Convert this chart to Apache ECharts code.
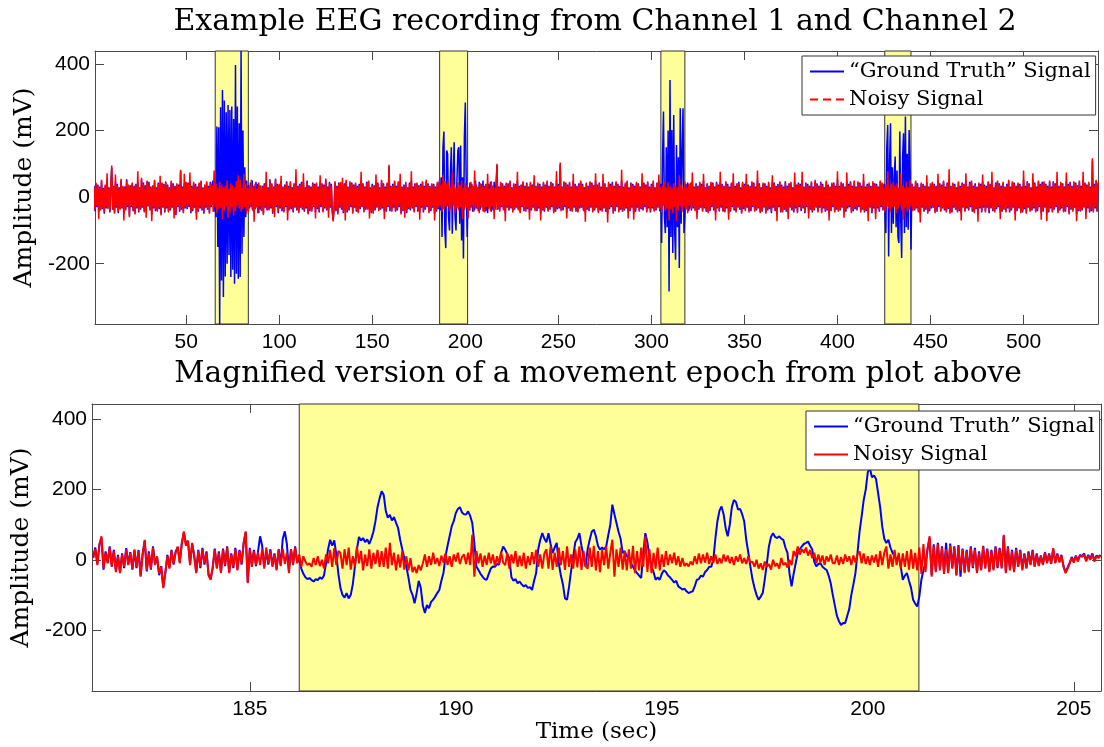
<!DOCTYPE html>
<html>
<head>
<meta charset="utf-8">
<script src="https://cdn.jsdelivr.net/npm/echarts@6/dist/echarts.min.js"></script>
<style>
  html, body { margin: 0; padding: 0; background: #fff; }
  #chart { width: 1104px; height: 747px; }
</style>
</head>
<body>
<div id="chart"></div>
<script>
// ---- Recording: whole session, two samples per second (mV), 10 s per row ----
const overviewStart = 0.5;   // s
const overviewStep = 0.5;    // s

const overviewTruth = [
  34,-42,40,-30,38,-44,32,-36,48,-36,28,-50,34,-34,52,-32,30,-46,36,88,
  -38,34,-46,46,-32,40,-48,30,-34,50,-34,30,-50,32,-36,54,-30,34,-56,36,
  -30,40,-42,34,-48,40,-34,44,-46,30,-38,54,-32,44,-42,36,-40,46,-28,46,
  -36,32,-52,32,-34,48,-42,30,-40,44,-36,34,-50,40,-32,40,-46,44,-34,38,
  -42,30,-40,46,-32,42,-38,34,-54,38,-30,38,-44,78,-38,32,-44,42,-34,42,
  -36,44,-30,48,-48,34,-42,42,-32,40,-50,32,-44,40,-34,46,-40,30,-50,34,
  -32,44,-38,34,-46,46,-30,40,50,-44,40,-60,212,-150,210,-381,270,-250,322,-300,
  290,-238,255,-200,277,-174,262,-240,272,-218,235,-260,397,-230,272,-245,222,-240,439,-170,
  200,-120,90,-60,50,-40,36,-34,44,-30,50,-42,34,-36,46,-30,40,-48,34,-38,
  -44,34,-50,42,-32,44,-40,30,-36,54,-34,38,-50,32,-30,52,-30,40,-48,36,
  -34,48,-42,32,-42,38,-30,48,-46,34,-36,44,-36,30,-46,42,-32,50,-40,34,
  -44,40,-32,46,-38,46,-44,30,-34,50,-48,36,-42,32,-40,44,-30,40,-46,40,
  -36,32,-46,46,-30,42,-42,38,-34,52,-40,32,-40,46,-32,40,-44,-68,-34,44,
  -42,34,-48,44,-32,42,-38,30,-48,42,-34,48,-46,32,-40,44,-30,44,-46,38,
  -32,40,-44,34,-44,40,-36,50,-30,42,-42,32,-38,46,-34,46,-34,30,-48,40,
  -46,36,-40,42,-32,44,-38,30,-38,48,-34,42,-44,32,-44,40,-30,92,-42,34,
  -40,40,-32,46,-44,34,-40,44,-30,46,-48,32,-42,38,-34,42,-48,30,-36,44,
  -40,50,-34,32,-42,42,-30,40,-44,36,-46,40,-32,44,-46,34,-38,48,-30,42,
  -44,34,-42,38,-32,40,-50,32,-44,42,-36,45,-40,60,-120,150,197,-100,-153,140,
  130,-60,-100,70,150,-110,60,165,-60,-100,50,140,150,-80,155,-130,60,-184,180,284,
  40,-120,30,-40,44,-32,40,-44,32,-40,50,-34,30,-42,46,-38,40,-32,50,-44,
  34,-42,34,-48,40,-30,46,-44,32,-40,46,-34,42,96,-38,32,-40,42,-30,42,
  -36,34,-48,40,-32,42,-40,46,-34,30,-42,38,-38,40,-32,50,-36,34,-44,38,
  -30,44,-42,34,-40,44,-36,32,-46,42,-40,38,-32,48,-38,34,-42,40,-34,40,
  -48,32,-40,42,-44,38,-32,46,-40,34,-38,46,-30,42,-44,32,-44,50,-36,40,
  -34,98,-38,32,-40,44,-30,44,-46,38,-34,42,-42,32,-40,48,-32,40,-44,34,
  -42,42,-34,46,-32,40,-38,30,-48,40,-38,34,-42,44,-32,44,-42,36,-40,50,
  -32,38,-44,44,-40,32,-40,48,-34,42,-44,30,-50,42,-36,40,-30,46,-46,34,
  -42,44,-30,40,-42,34,-38,50,-44,32,-40,40,-34,46,-44,30,-42,44,-32,40,
  -48,34,-44,42,-32,42,-40,32,-36,48,-40,44,-30,38,-42,44,-34,32,-46,40,
  -34,46,-40,30,-40,44,-32,50,-42,40,-138,120,257,-60,-108,150,-90,200,-283,352,
  -120,202,-168,247,-100,-188,157,-90,120,-213,267,-80,140,267,-108,-58,40,-35,44,-42,
  -30,40,-40,48,-34,32,-38,42,-46,34,-38,42,-32,40,-40,50,-34,30,-44,42,
  -44,34,-42,42,-30,44,-40,32,-48,46,-34,38,-40,46,-32,40,-44,34,-42,44,
  -34,40,-50,32,-44,40,-30,46,-40,34,-42,42,-32,46,-38,30,-46,42,-36,40,
  -38,48,-32,38,-42,34,-42,44,-30,44,-40,32,-40,50,-34,42,-44,30,-44,40,
  -32,42,-46,34,-40,42,-36,30,-48,48,-32,44,-42,34,-50,40,-30,44,-46,38,
  -42,32,-38,48,-44,34,-48,42,-32,42,-40,30,-46,46,-34,38,-44,44,-30,40,
  -42,50,-34,32,-48,44,-30,40,-46,34,-38,44,-46,32,-40,48,-32,42,-42,34,
  -32,46,-44,40,-34,30,-44,46,-40,38,-48,32,-42,40,-30,44,-42,34,-38,52,
  -40,34,-40,42,-32,42,-46,32,-44,48,-34,40,-30,48,-44,34,-42,46,-36,32,
  -40,44,-30,44,-42,34,-38,50,-46,32,-42,40,-46,40,-32,34,-48,44,-34,42,
  -48,40,-34,32,-44,46,-30,40,-40,40,-50,-108,150,217,-178,100,222,-108,90,-80,
  60,122,-90,80,-120,-138,197,-70,-183,120,192,-108,242,-90,130,-98,202,82,-158,40,
  -38,32,-40,46,-34,42,-42,30,-50,40,-32,40,-44,34,-38,44,-46,32,-42,38,
  -34,42,-32,40,-44,34,-44,48,-30,42,-40,38,-34,46,-40,32,-42,44,-36,50,
  -46,34,-46,40,-32,40,-38,30,-42,44,-42,34,-48,44,-32,40,-40,50,-34,32,
  -40,46,-30,46,-44,34,-44,42,-36,32,-50,40,-34,40,-46,48,-32,38,-42,34,
  -32,44,-48,40,-34,50,-42,30,-42,44,-36,46,-30,42,-46,34,-44,42,-38,32,
  -42,40,-34,48,-46,32,-40,44,-32,44,-50,34,-42,40,-34,40,-44,32,-46,52,
  -36,34,-46,48,-32,42,-40,30,-40,50,-34,44,-42,32,-42,46,-30,40,-48,46,
  -44,44,-32,40,-50,34,-46,46,-34,32,-42,48,-38,42,-30,48,-44,34,-40,42,
  -34,42,-42,32,-44,50,-30,40,-48,46,-38,34,-40,44,-32,44,-52,36,-42,46,
  -40,34,-40,52,-32,44,-46,38,-34,42,-46,32,-42,110,-42,40,-34,48,-44,40
];

const overviewNoisy = [
  30,-38,44,-26,36,-66,28,-40,52,-32,24,-45,38,-30,72,-36,26,-42,40,95,
  -35,30,-50,68,-28,36,-44,26,-38,55,-30,34,-70,28,-40,50,-25,38,-60,32,
  -26,44,-38,30,-52,36,-30,78,-42,26,-34,58,-28,40,-46,32,-62,50,-24,42,
  -40,28,-72,36,-30,52,-38,26,-44,40,-32,64,-55,44,-28,36,-42,48,-30,34,
  -46,26,-36,50,-28,38,-64,30,-50,42,-26,34,-40,82,-35,28,-48,70,-30,46,
  -32,40,-26,74,-44,30,-38,46,-28,36,-68,28,-40,44,-30,50,-36,26,-46,38,
  -28,48,-34,30,-50,42,-26,36,-44,80,-30,40,-48,28,-36,46,-32,38,-66,30,
  -40,34,-28,50,-62,26,-46,42,-30,36,-55,30,-42,48,-26,66,-34,52,-44,28,
  -36,70,-30,40,-50,28,-42,34,-26,52,-38,30,-74,40,-32,26,-48,44,-28,36,
  -42,30,-54,38,-28,76,-36,26,-40,50,-30,42,-46,28,-60,56,-26,36,-44,40,
  -30,64,-38,28,-46,34,-26,44,-70,30,-40,48,-32,26,-42,38,-28,84,-36,30,
  -48,36,-28,42,-34,72,-40,26,-30,46,-52,32,-38,28,-44,40,-26,36,-64,44,
  -32,28,-42,66,-26,38,-46,34,-30,56,-36,28,-62,42,-28,36,-40,-73,-30,48,
  -38,30,-52,40,-28,46,-34,58,-44,38,-70,52,-42,28,-36,48,-26,40,-50,34,
  -28,44,-40,30,-48,36,-32,76,-26,38,-46,28,-34,42,-38,50,-64,26,-44,36,
  -50,32,-36,68,-28,40,-42,26,-34,52,-30,38,-66,28,-40,44,-26,97,-38,30,
  -44,36,-28,50,-40,30,-36,48,-26,70,-52,28,-38,34,-62,46,-44,26,-32,40,
  -36,78,-30,28,-46,38,-26,44,-40,32,-68,36,-28,48,-42,30,-34,52,-26,38,
  -48,30,-38,42,-28,36,-70,28,-40,46,-32,50,-26,38,-44,66,-36,48,-30,40,
  -28,46,-42,30,-36,74,-26,38,-48,28,-34,44,-40,36,-30,50,-66,28,-38,42,
  -32,36,-64,28,-40,46,-26,34,-44,80,-30,38,-36,28,-48,42,-28,36,-42,30,
  -46,40,-30,70,-36,26,-42,48,-28,36,-66,30,-38,100,-34,28,-44,46,-26,38,
  -40,30,-72,44,-28,38,-36,50,-30,26,-46,42,-34,36,-28,76,-40,30,-48,34,
  -26,48,-38,30,-44,40,-32,28,-68,46,-36,34,-28,66,-42,30,-38,44,-30,36,
  -70,28,-36,46,-40,34,-28,50,-44,30,-34,42,-26,38,-48,28,-40,78,-32,36,
  -30,104,-42,28,-36,48,-26,40,-64,34,-30,46,-38,28,-44,70,-28,36,-40,30,
  -46,38,-30,50,-28,36,-42,26,-74,44,-34,30,-38,48,-28,40,-46,32,-36,72,
  -28,34,-48,40,-36,28,-44,70,-30,38,-40,26,-76,46,-32,36,-26,42,-50,30,
  -38,48,-26,36,-46,30,-34,82,-40,28,-36,44,-30,50,-64,26,-38,40,-28,36,
  -68,30,-40,46,-28,38,-44,28,-32,72,-36,40,-26,34,-46,48,-30,28,-42,36,
  -30,50,-44,26,-36,40,-28,68,-38,30,-46,36,-26,48,-42,28,-34,44,-70,32,
  -36,28,-48,42,-30,36,-72,30,-40,66,-26,38,-44,28,-32,46,-38,30,-48,40,
  -26,44,-36,74,-30,28,-42,38,-66,30,-34,46,-28,36,-44,70,-30,26,-40,38,
  -48,30,-38,46,-26,40,-36,28,-70,42,-30,34,-44,76,-28,36,-40,30,-46,48,
  -30,36,-68,28,-40,44,-26,72,-36,30,-46,38,-28,42,-34,26,-50,46,-32,36,
  -42,70,-28,34,-46,30,-38,48,-26,40,-44,28,-36,80,-30,38,-48,26,-40,44,
  -28,38,-50,30,-36,46,-32,26,-44,66,-28,40,-38,30,-72,36,-26,48,-42,34,
  -46,28,-34,44,-40,30,-66,38,-28,46,-36,26,-42,74,-30,34,-48,40,-26,36,
  -38,76,-30,28,-44,40,-26,36,-64,30,-34,48,-42,28,-36,52,-28,38,-46,30,
  -28,42,-48,36,-30,26,-40,50,-36,34,-70,28,-38,44,-26,40,-46,30,-34,78,
  -44,30,-36,46,-28,38,-62,28,-40,74,-30,36,-26,44,-48,30,-38,50,-32,28,
  -36,48,-26,40,-46,30,-34,70,-42,28,-38,36,-72,44,-28,30,-44,48,-30,38,
  -66,36,-30,28,-40,50,-26,44,-36,30,-46,38,-28,78,-34,26,-44,40,-30,46,
  -28,34,-48,42,-36,30,-26,72,-40,36,-68,28,-32,46,-44,30,-38,52,-28,40,
  -42,28,-36,50,-30,38,-46,26,-76,44,-28,36,-40,30,-34,66,-50,28,-38,42,
  -30,46,-28,36,-48,30,-40,70,-26,38,-44,34,-30,50,-36,28,-46,40,-32,84,
  -50,30,-42,44,-28,36,-34,26,-46,48,-38,30,-70,40,-28,36,-44,72,-30,28,
  -36,42,-26,50,-40,30,-48,38,-32,28,-74,44,-30,36,-42,68,-28,34,-46,30,
  -28,48,-44,36,-30,76,-38,26,-46,40,-32,50,-26,38,-66,30,-40,46,-34,28,
  -46,36,-30,52,-42,28,-36,48,-28,40,-70,30,-38,44,-30,36,-48,28,-42,80,
  -32,30,-50,44,-28,38,-44,26,-36,72,-30,40,-46,28,-38,50,-26,36,-68,42,
  -40,48,-28,36,-72,30,-42,50,-30,28,-46,44,-34,38,-26,76,-48,30,-36,46,
  -30,38,-46,28,-40,74,-26,36,-52,42,-34,30,-44,48,-28,40,-72,32,-38,50,
  -44,30,-36,76,-28,40,-66,34,-30,46,-42,28,-38,117,-46,36,-30,52,-40,45
];

// ---- Close-up of the second movement epoch, 20 samples per second (mV) ----
const zoomStart = 181.2;     // s
const zoomStep = 0.05;       // s

const zoomTruth = [
  8,35,-12,45,62,-28,24,-8,38,-18,28,-32,14,-35,18,-24,33,-12,22,-28,
  27,-24,28,-45,18,54,-33,24,-28,38,-12,6,-44,-18,-78,-38,14,-22,28,-14,
  24,35,-6,48,78,44,52,-12,45,14,-35,28,-24,34,-14,24,-42,-54,-24,32,
  -22,24,-35,32,-18,38,-35,18,-24,34,-27,28,-14,48,78,-64,34,-16,28,-18,
  24,67,40,-20,25,-14,30,-16,18,-26,30,-14,60,81,45,-30,30,-12,38,-8,
  5,-25,-40,-50,-55,-52,-58,-62,-55,-58,-50,-55,-45,-10,30,57,40,55,15,-40,
  -80,-100,-108,-95,-110,-100,-70,-20,30,65,55,62,50,58,45,60,80,110,150,175,
  195,185,140,120,128,112,122,105,90,57,30,5,-19,-50,-86,-100,-124,-95,-60,-80,
  -130,-152,-129,-138,-120,-114,-105,-95,-86,-60,-38,10,40,67,95,110,133,145,150,135,
  130,129,138,125,105,48,-19,-29,-40,-48,-55,-57,-40,-25,-19,-20,-12,-14,20,38,
  29,15,5,-50,-60,-55,-67,-62,-70,-76,-72,-80,-78,-86,-60,-38,30,57,76,60,
  50,76,45,19,35,48,-10,-45,-70,-110,-114,-76,-30,10,50,60,76,40,10,-19,
  30,57,80,86,67,40,29,35,30,38,70,100,157,130,105,80,60,19,25,10,
  10,-10,-20,-30,-38,-45,-52,20,76,50,10,-19,-35,-57,-50,-57,-40,-30,-35,-45,
  -50,-57,-65,-60,-76,-80,-85,-82,-90,-95,-92,-90,-75,-57,-55,-45,-48,-35,-29,-20,
  -20,0,60,110,140,152,130,90,67,100,150,170,165,143,145,130,110,57,20,-19,
  -55,-80,-100,-114,-105,-95,-55,-10,38,65,76,65,62,67,60,57,35,20,-40,-76,
  -40,-10,19,30,38,45,48,52,40,30,-5,-19,-12,-10,-20,-25,-29,-45,-67,-100,
  -130,-160,-175,-186,-180,-181,-160,-140,-100,-70,-38,20,80,124,170,200,250,262,235,240,
  230,190,150,95,60,48,57,35,20,10,0,12,-20,-57,-45,-38,-60,-80,-114,-125,
  -133,-105,-57,-30,-10,32,62,-44,44,-32,48,-26,38,-36,48,-34,46,-22,38,-42,
  42,-48,32,-34,28,-32,38,-24,34,-34,24,-28,40,-22,32,-32,28,-26,38,-24,
  34,-22,68,-34,38,-28,28,-32,34,-18,28,-26,18,-22,24,-12,28,-18,18,-15,
  12,-12,22,-8,18,-10,30,-8,18,-6,14,-18,-35,-22,-8,8,-5,12,-2,14,
  10,18,-2,14,3,18,-2,12,8,14
];

const zoomNoisy = [
  5,30,-15,40,67,-25,20,-10,35,-20,25,-35,10,-38,15,-20,30,-15,20,-25,
  30,-20,25,-48,15,57,-30,20,-25,35,-15,10,-40,-20,-81,-35,10,-25,25,-10,
  20,38,-10,45,81,40,55,-15,48,10,-38,25,-20,30,-10,20,-45,-57,-20,29,
  -25,20,-38,29,-15,35,-38,15,-20,30,-30,25,-10,45,81,-67,30,-20,25,-15,
  20,-15,30,-25,35,-10,25,-20,15,-30,28,-18,32,-12,20,-38,30,-15,35,-10,
  15,-20,10,-5,-15,-10,-20,5,-15,10,-18,0,-25,15,-10,28,-20,33,-15,25,
  20,-25,30,-15,35,-28,10,-20,38,-10,25,-30,15,-18,30,-25,20,-12,28,-20,
  25,-20,35,-25,48,-15,20,-30,15,-22,25,-28,10,-30,5,-35,-20,-38,-15,-30,
  -10,15,-20,10,-15,20,-12,5,-18,12,-8,18,-15,10,-20,15,-5,20,-12,8,
  15,-12,20,-15,71,-48,25,-10,18,-20,12,-15,20,-10,15,-18,10,-12,22,-8,
  -15,20,-25,15,-10,25,-20,12,-18,20,-25,10,-15,22,-12,28,-20,15,-25,18,
  30,-25,38,-29,20,-20,35,-15,25,-29,38,-20,15,-25,30,-22,38,-29,25,-18,
  -25,35,-20,40,-30,25,-35,30,-15,38,-25,20,57,-48,30,-20,35,-28,25,-30,
  30,-25,40,-38,25,-30,35,-20,67,-35,30,-38,20,-25,35,-30,15,-20,25,-15,
  15,-10,20,-15,10,-20,5,-18,-10,-19,-5,-15,10,-12,18,-10,15,-8,20,-12,
  10,-8,15,-12,5,-10,15,-5,12,-10,8,-15,10,-5,15,-10,5,-12,10,-8,
  -5,-20,0,-25,-10,-29,-5,-20,-12,-28,0,-18,-10,-25,5,-15,-8,-22,0,-15,
  25,10,38,15,30,20,35,12,28,5,20,-10,15,-8,12,-15,10,-5,15,-10,
  -10,12,-15,8,-12,15,-5,10,-15,12,-8,15,24,-10,18,-12,10,-15,12,-8,
  15,-20,25,-15,20,38,-25,15,-20,28,-15,20,-25,18,-20,25,-28,30,-25,20,
  -30,35,-40,45,-35,30,67,-48,40,-35,45,-30,35,-40,30,-38,42,-25,35,-45,
  38,-30,30,-38,25,-35,35,-20,30,-38,20,-30,38,-25,30,-35,25,-30,35,-20,
  30,-25,71,-38,35,-30,25,-35,30,-20,25,-30,15,-25,20,-15,25,-20,15,-18,
  10,-15,20,-10,15,-12,33,-10,15,-8,12,-20,-38,-25,-10,5,-8,10,-5,12,
  8,15,-5,12,0,15,-5,10,5,12
];

// Movement epochs (start, end) in seconds; the close-up shows the second one
const movementEpochs = [[65.6, 83.4], [186.2, 201.24], [305.1, 318.0], [425.4, 439.5]];
const zoomEpochIndex = 1;

// Axis extents and tick labels
const overviewRange = [1, 540];
const zoomRange = [181.17, 205.66];
const overviewAmpRange = [-381, 439];
const zoomAmpRange = [-374, 444];
const overviewTicks = [50, 100, 150, 200, 250, 300, 350, 400, 450, 500];
const zoomTicks = [185, 190, 195, 200, 205];
const ampTicks = [-200, 0, 200, 400];

const seriesNames = ['\u201CGround Truth\u201D Signal', 'Noisy Signal'];
const titles = [
  'Example EEG recording from Channel 1 and Channel 2',
  'Magnified version of a movement epoch from plot above'
];
const ampLabel = 'Amplitude (mV)';
const timeLabel = 'Time (sec)';

// ---- Styling ----
const SERIF = 'DejaVu Serif';
const SANS = 'Liberation Sans';
const AXIS = '#4a4a4a';
const BLUE = '#0000ff';
const RED = '#ff0000';
const YELLOW = '#ffff99';
// legend keys: a plain stroke and a three-dash stroke
const SOLID_KEY = 'rect';
const DASHED_KEY = 'path://M0,0h8v2h-8zM13,0h8v2h-8zM26,0h8v2h-8z';

function samples(values, start, step) {
  return values.map((v, i) => [Math.round((start + i * step) * 1000) / 1000, v]);
}

function xPair(grid, range, ticks, name) {
  const common = {
    type: 'value', gridIndex: grid, min: range[0], max: range[1],
    splitLine: { show: false },
    axisLine: { show: true, onZero: false, lineStyle: { color: AXIS, width: 1 } },
    axisTick: { show: true, inside: true, length: 9, customValues: ticks, lineStyle: { color: AXIS } }
  };
  const bottom = Object.assign({}, common, {
    position: 'bottom',
    axisLabel: { customValues: ticks, color: '#000', fontFamily: SANS, fontSize: 21, margin: 8 }
  });
  if (name) {
    Object.assign(bottom, {
      name: name, nameLocation: 'middle', nameGap: 30,
      nameTextStyle: { fontFamily: SERIF, fontSize: 23, color: '#000' }
    });
  }
  const top = Object.assign({}, common, { position: 'top', axisLabel: { show: false } });
  return [bottom, top];
}

function yPair(grid, range, gap) {
  const common = {
    type: 'value', gridIndex: grid, min: range[0], max: range[1],
    splitLine: { show: false },
    axisLine: { show: true, onZero: false, lineStyle: { color: AXIS, width: 1 } },
    axisTick: { show: true, inside: true, length: 9, customValues: ampTicks, lineStyle: { color: AXIS } }
  };
  const left = Object.assign({}, common, {
    position: 'left',
    axisLabel: { customValues: ampTicks, color: '#000', fontFamily: SANS, fontSize: 21, margin: 5 },
    name: ampLabel, nameLocation: 'middle', nameGap: gap, nameRotate: 90,
    nameTextStyle: { fontFamily: SERIF, fontSize: 25, color: '#000' }
  });
  const right = Object.assign({}, common, { position: 'right', axisLabel: { show: false } });
  return [left, right];
}

function bandSeries(xi, yi, epochs) {
  return {
    type: 'line', xAxisIndex: xi, yAxisIndex: yi, data: [], z: 1, silent: true,
    markArea: {
      silent: true,
      itemStyle: { color: YELLOW, borderColor: '#333', borderWidth: 1 },
      data: epochs.map(e => [{ xAxis: e[0] }, { xAxis: e[1] }])
    }
  };
}

function signal(name, xi, yi, data, color, width, z) {
  return {
    name: name, type: 'line', xAxisIndex: xi, yAxisIndex: yi, data: data,
    symbol: 'none', showSymbol: false, z: z, animation: false, sampling: null,
    lineStyle: { color: color, width: width }, itemStyle: { color: color }
  };
}

function legendAt(left, top, dashedNoisy) {
  return {
    orient: 'vertical', left: left, top: top,
    padding: [5, 5, 5, 8], itemGap: 7, itemWidth: 34, itemHeight: 2,
    symbolKeepAspect: false,
    backgroundColor: '#fff', borderColor: '#333', borderWidth: 1, z: 10,
    textStyle: { fontFamily: SERIF, fontSize: 21, color: '#000' },
    selectedMode: false,
    data: [
      { name: seriesNames[0], icon: SOLID_KEY, itemStyle: { color: BLUE } },
      { name: seriesNames[1], icon: dashedNoisy ? DASHED_KEY : SOLID_KEY, itemStyle: { color: RED } }
    ]
  };
}

const [ox0, ox1] = xPair(0, overviewRange, overviewTicks, null);
const [zx0, zx1] = xPair(1, zoomRange, zoomTicks, timeLabel);
const [oy0, oy1] = yPair(0, overviewAmpRange, 57);
const [zy0, zy1] = yPair(1, zoomAmpRange, 55);

const option = {
  animation: false,
  backgroundColor: '#fff',
  title: [
    { text: titles[0], left: 590, top: 2, textAlign: 'center',
      textStyle: { fontFamily: SERIF, fontSize: 30, fontWeight: 'normal', color: '#000' } },
    { text: titles[1], left: 593, top: 354, textAlign: 'center',
      textStyle: { fontFamily: SERIF, fontSize: 29.6, fontWeight: 'normal', color: '#000' } }
  ],
  grid: [
    { left: 95, top: 51, width: 1003, height: 273, containLabel: false },
    { left: 92, top: 404, width: 1009, height: 287, containLabel: false }
  ],
  xAxis: [ox0, ox1, zx0, zx1],
  yAxis: [oy0, oy1, zy0, zy1],
  legend: [legendAt(802, 56, true), legendAt(806, 411, false)],
  series: [
    bandSeries(0, 0, movementEpochs),
    signal(seriesNames[0], 0, 0, samples(overviewTruth, overviewStart, overviewStep), BLUE, 1.5, 2),
    signal(seriesNames[1], 0, 0, samples(overviewNoisy, overviewStart, overviewStep), RED, 1.5, 3),
    bandSeries(2, 2, [movementEpochs[zoomEpochIndex]]),
    signal(seriesNames[0], 2, 2, samples(zoomTruth, zoomStart, zoomStep), BLUE, 2, 2),
    signal(seriesNames[1], 2, 2, samples(zoomNoisy, zoomStart, zoomStep), RED, 2, 3)
  ]
};

const chart = echarts.init(document.getElementById('chart'), null, { renderer: 'canvas' });
chart.setOption(option);
</script>
</body>
</html>
